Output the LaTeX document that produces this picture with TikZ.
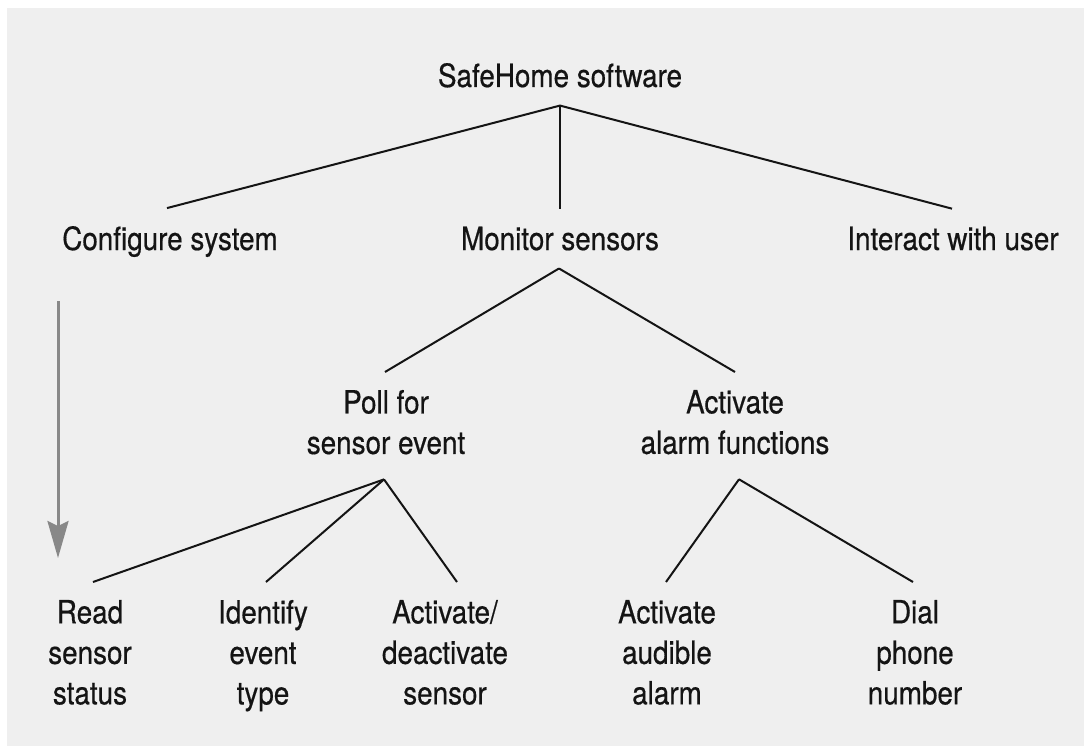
\documentclass[tikz,border=0pt]{standalone}
\usepackage{fontspec}
\setmainfont[FakeStretch=0.87, FakeBold=0.5]{TeX Gyre Heros}
\usetikzlibrary{arrows.meta}
\definecolor{bg}{HTML}{EFEFEF}
\definecolor{arrowgray}{HTML}{888888}
\definecolor{ink}{HTML}{141414}
\begin{document}
\begin{tikzpicture}[x=1pt,y=-1pt,
  lbl/.style={inner sep=0pt, outer sep=0pt, font=\fontsize{32pt}{40.5pt}\selectfont, align=center, text=ink},
  link/.style={draw=ink, line width=2pt},
  flow/.style={draw=arrowgray, line width=3pt, -{Stealth[length=37pt,width=21pt,inset=5pt]}}]
\useasboundingbox (0,0) rectangle (1084,746);
\fill[bg] (7,8) rectangle (1084,746);
% nodes
\node[lbl, anchor=base] (top) at (560,87) {SafeHome software};
\node[lbl, anchor=base] (conf) at (170,250) {Configure system};
\node[lbl, anchor=base] (mon) at (560,250) {Monitor sensors};
\node[lbl, anchor=base] (inter) at (953,250) {Interact with user};
\node[lbl, anchor=north] (poll) at (386,390) {Poll for\\sensor event};
\node[lbl, anchor=north] (alarm) at (735,390) {Activate\\alarm functions};
\node[lbl, anchor=north] (read) at (90,600) {Read\\sensor\\status};
\node[lbl, anchor=north] (ident) at (263,600) {Identify\\event\\type};
\node[lbl, anchor=north] (actd) at (445,600) {Activate/\\deactivate\\sensor};
\node[lbl, anchor=north] (aud) at (667,600) {Activate\\audible\\alarm};
\node[lbl, anchor=north] (dial) at (915,600) {Dial\\phone\\number};
% connectors
\draw[link] ([yshift=-18pt]top.south) -- ([xshift=-3pt,yshift=18pt]conf.north);
\draw[link] ([yshift=-18pt]top.south) -- ([yshift=18pt]mon.north);
\draw[link] ([yshift=-18pt]top.south) -- ([xshift=-1pt,yshift=18pt]inter.north);
\draw[link] ([xshift=-1pt,yshift=-18pt]mon.south) -- ([xshift=-1pt,yshift=18pt]poll.north);
\draw[link] ([xshift=-1pt,yshift=-18pt]mon.south) -- ([yshift=18pt]alarm.north);
\draw[link] ([xshift=-2pt,yshift=-25pt]poll.south) -- ([xshift=3pt,yshift=18pt]read.north);
\draw[link] ([xshift=-2pt,yshift=-25pt]poll.south) -- ([xshift=3pt,yshift=18pt]ident.north);
\draw[link] ([xshift=-2pt,yshift=-25pt]poll.south) -- ([xshift=12pt,yshift=18pt]actd.north);
\draw[link] ([xshift=4pt,yshift=-25pt]alarm.south) -- ([xshift=-1pt,yshift=18pt]aud.north);
\draw[link] ([xshift=4pt,yshift=-25pt]alarm.south) -- ([xshift=-2pt,yshift=18pt]dial.north);
% order arrow
\coordinate (flowstart) at (58,301);
\coordinate (flowend) at (58,558);
\draw[flow] (flowstart) -- (flowend);
\end{tikzpicture}
\end{document}
